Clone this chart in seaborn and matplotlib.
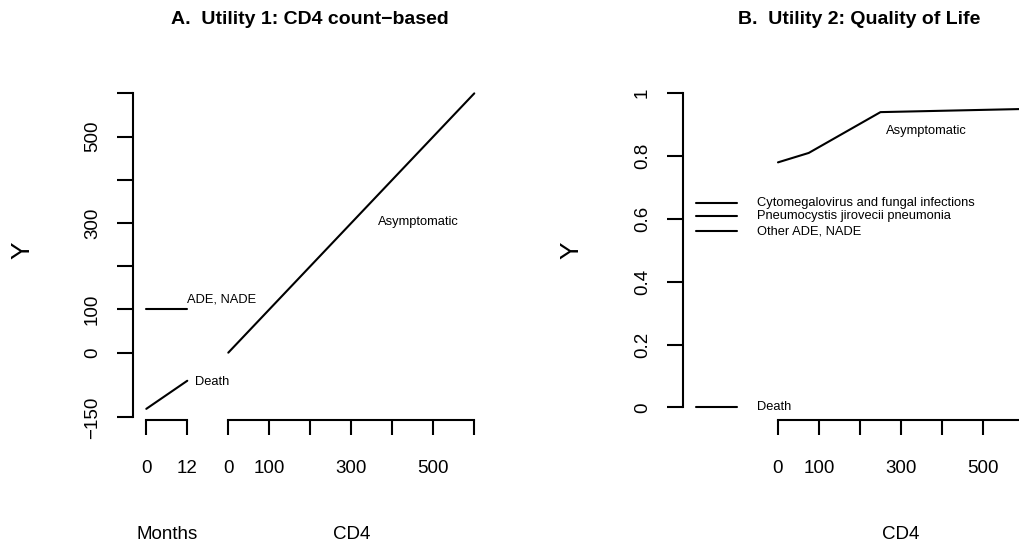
import numpy as np
import pandas as pd
import matplotlib
matplotlib.use("Agg")
import matplotlib.pyplot as plt
import seaborn as sns

# ---------------- data ----------------
# Panel A: Utility 1, CD4 count-based
a_cd4 = [0, 600]
a_asym = [0, 600]
a_months = [0, 12]
a_ade = [100, 100]
a_death = [-130, -65]

# Panel B: Utility 2, quality of life
b_cd4 = [0, 75, 250, 600]
b_asym = [0.78, 0.81, 0.94, 0.95]
b_months = [0, 12]
b_cmv = [0.65, 0.65]
b_pcp = [0.61, 0.61]
b_other = [0.56, 0.56]
b_death = [0, 0]

a_yticks = [-150, 0, 100, 200, 300, 400, 500, 600]
a_yticklabels = ["\u2212150", "0", "100", "", "300", "", "500", ""]
b_yticks = [0, 0.2, 0.4, 0.6, 0.8, 1.0]
b_yticklabels = ["0", "0.2", "0.4", "0.6", "0.8", "1"]
cd4_ticks = [0, 100, 200, 300, 400, 500, 600]
cd4_ticklabels = ["0", "100", "", "300", "", "500", ""]
month_ticks = [0, 12]
month_ticklabels = ["0", "12"]

titles = ["A.  Utility 1: CD4 count\u2212based", "B.  Utility 2: Quality of Life"]

# ---------------- style ----------------
sns.set_style("ticks")
plt.rcParams["font.family"] = ["Liberation Sans", "DejaVu Sans"]
plt.rcParams["text.color"] = "black"
plt.rcParams["axes.labelcolor"] = "black"
plt.rcParams["axes.titlecolor"] = "black"
plt.rcParams["xtick.color"] = "black"
plt.rcParams["ytick.color"] = "black"
plt.rcParams["axes.edgecolor"] = "black"

W, H = 1020, 547
fig = plt.figure(figsize=(W / 100, H / 100), dpi=100)

LW = 1.5
TICK_FS = 13.5
ANN_FS = 9.3

# x data range: CD4 units; months are drawn on a twin axis
XLIM = (-232.4, 640)
MONTH_PER_UNIT = 12 / 100.0
MONTH_X0 = -200.0
TW_XLIM = ((XLIM[0] - MONTH_X0) * MONTH_PER_UNIT, (XLIM[1] - MONTH_X0) * MONTH_PER_UNIT)

ax_w = (XLIM[1] - XLIM[0]) * 0.41 / W
ax_h = 339.6 / H
ax_b = (H - 420) / H

axA = fig.add_axes([133 / W, ax_b, ax_w, ax_h])
axB = fig.add_axes([682.7 / W, ax_b, ax_w, ax_h])


def style_axes(ax, tw, yticks, yticklabels, ylim, show_month_axis):
    ax.set_xlim(XLIM)
    ax.set_ylim(ylim)
    tw.set_xlim(TW_XLIM)
    for s in ["top", "right"]:
        ax.spines[s].set_visible(False)
    for s in ["top", "right", "left"]:
        tw.spines[s].set_visible(False)
    for a in (ax, tw):
        for s in a.spines.values():
            s.set_linewidth(LW)
            s.set_color("black")
    ax.spines["left"].set_bounds(yticks[0], yticks[-1])
    ax.spines["bottom"].set_bounds(cd4_ticks[0], cd4_ticks[-1])
    ax.set_yticks(yticks)
    ax.set_yticklabels(yticklabels)
    ax.set_xticks(cd4_ticks)
    ax.set_xticklabels(cd4_ticklabels)
    ax.tick_params(axis="y", direction="out", length=11.5, width=LW, pad=11.5,
                   labelsize=TICK_FS, labelrotation=90, color="black", labelcolor="black")
    ax.tick_params(axis="x", direction="out", length=11, width=LW, pad=17.5,
                   labelsize=TICK_FS, color="black", labelcolor="black")
    for lab in ax.get_yticklabels():
        lab.set_va("center")
    tw.xaxis.set_ticks_position("bottom")
    tw.xaxis.set_label_position("bottom")
    tw.spines["bottom"].set_position(("axes", 0))
    if show_month_axis:
        tw.spines["bottom"].set_bounds(month_ticks[0], month_ticks[-1])
        tw.set_xticks(month_ticks)
        tw.set_xticklabels(month_ticklabels)
        tw.tick_params(axis="x", direction="out", length=11, width=LW, pad=17.5,
                       labelsize=TICK_FS, color="black", labelcolor="black")
    else:
        tw.spines["bottom"].set_visible(False)
        tw.set_xticks([])
    tw.set_xlabel("")
    tw.set_ylabel("")
    ax.set_ylabel("Y", fontsize=19, color="black")
    ax.yaxis.set_label_coords(-0.31, 0.5)
    ax.yaxis.label.set_va("center")
    ax.set_xlabel("CD4", fontsize=TICK_FS, color="black")
    ax.xaxis.set_label_coords((300 - XLIM[0]) / (XLIM[1] - XLIM[0]), -0.3504)
    ax.xaxis.label.set_va("baseline")


# ---------------- Panel A ----------------
twA = axA.twiny()
sns.lineplot(x=a_cd4, y=a_asym, ax=axA, color="black", lw=LW)
sns.lineplot(x=a_months, y=a_ade, ax=twA, color="black", lw=LW)
sns.lineplot(x=a_months, y=a_death, ax=twA, color="black", lw=LW)
style_axes(axA, twA, a_yticks, a_yticklabels, (-155.8, 630), True)
twA.set_xlabel("Months", fontsize=TICK_FS, color="black")
twA.xaxis.set_label_coords((6 - TW_XLIM[0]) / (TW_XLIM[1] - TW_XLIM[0]), -0.3504)
twA.xaxis.label.set_va("baseline")
twA.text(12, 122, "ADE, NADE", fontsize=ANN_FS, ha="left", va="center", color="black")
twA.text(14.3, -67, "Death", fontsize=ANN_FS, ha="left", va="center", color="black")
axA.text(463, 302, "Asymptomatic", fontsize=ANN_FS, ha="center", va="center", color="black")
axA.set_title(titles[0], fontsize=14, fontweight="bold", x=0.495, y=1.166,
              va="baseline", pad=0, color="black")

# ---------------- Panel B ----------------
twB = axB.twiny()
sns.lineplot(x=b_cd4, y=b_asym, ax=axB, color="black", lw=LW)
b_segments = [(b_cmv, "Cytomegalovirus and fungal infections"),
              (b_pcp, "Pneumocystis jirovecii pneumonia"),
              (b_other, "Other ADE, NADE"),
              (b_death, "Death")]
for vals, label in b_segments:
    sns.lineplot(x=b_months, y=vals, ax=twB, color="black", lw=LW)
    twB.text(17.8, vals[-1], label, fontsize=ANN_FS, ha="left", va="center", color="black")
style_axes(axB, twB, b_yticks, b_yticklabels, (-0.0404, 1.041), False)
axB.text(362, 0.88, "Asymptomatic", fontsize=ANN_FS, ha="center", va="center", color="black")
axB.set_title(titles[1], fontsize=14, fontweight="bold", x=0.493, y=1.166,
              va="baseline", pad=0, color="black")

for a in (axA, axB, twA, twB):
    for line in a.get_lines():
        line.set_clip_on(False)

fig.savefig("out.png", dpi=100, facecolor="white")
